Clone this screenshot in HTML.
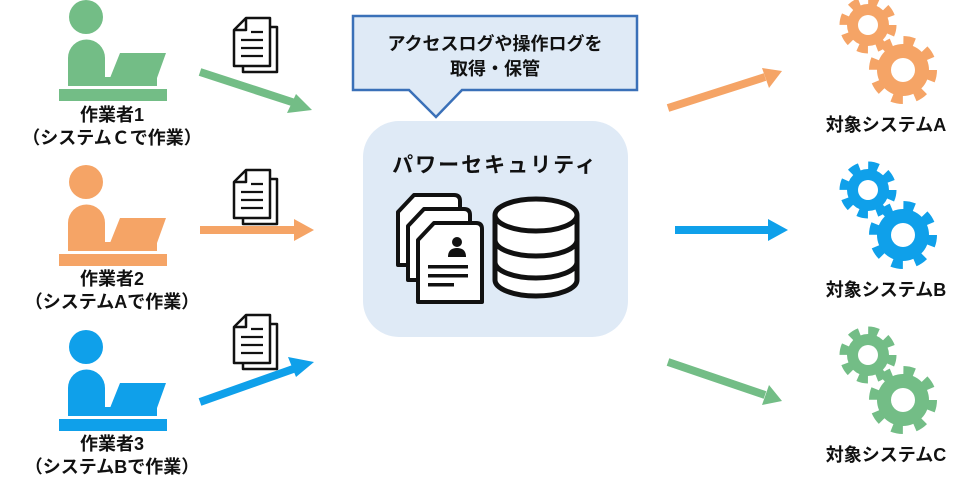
<!DOCTYPE html>
<html><head><meta charset="utf-8"><style>
body{margin:0;background:#fff;width:965px;height:494px;overflow:hidden}
text{font-family:"Liberation Sans","Noto Sans CJK JP",sans-serif;font-weight:bold;fill:#111}
</style></head><body>
<svg width="965" height="494" viewBox="0 0 965 494" xmlns="http://www.w3.org/2000/svg">
<defs>
<g id="person">
<circle cx="86" cy="17" r="17"/>
<path d="M68 86 V58 A18.5 18.5 0 0 1 105 58 V86 Z"/>
<path d="M120 53 H166 L157 78 H110 Z"/>
<rect x="94" y="77" width="63" height="9"/>
<rect x="59" y="89" width="108" height="12"/>
</g>
<g id="doc" fill="#fff" stroke="#111" stroke-width="2.5" stroke-linejoin="round">
<path d="M243 27 H277 V72 H243 Z"/>
<path d="M234 30 L246 18 H270 V66 H234 Z"/>
<path d="M234 30 H246 V18" fill="none"/>
<path d="M251 32 H263 M241 40 H263 M241 48 H263 M241 56 H263" stroke-width="2.2"/>
</g>
</defs>

<g fill="#73bd86"><use href="#person"/></g>
<g fill="#f5a466" transform="translate(0,165)"><use href="#person"/></g>
<g fill="#0fa0ea" transform="translate(0,330)"><use href="#person"/></g>

<g font-size="18" text-anchor="middle">
<text x="112" y="121">作業者1</text>
<text x="112" y="144">（システムＣで作業）</text>
<text x="112" y="285">作業者2</text>
<text x="112" y="308">（システムAで作業）</text>
<text x="112" y="450">作業者3</text>
<text x="112" y="473">（システムBで作業）</text>
</g>

<use href="#doc"/>
<use href="#doc" transform="translate(0,152)"/>
<use href="#doc" transform="translate(0,297)"/>

<g stroke-width="8" fill="none">
<line x1="200" y1="72" x2="295" y2="103" stroke="#73bd86"/>
<line x1="200" y1="230" x2="296" y2="230" stroke="#f5a466"/>
<line x1="200" y1="402" x2="296" y2="368" stroke="#0fa0ea"/>
<line x1="668" y1="108" x2="765" y2="77" stroke="#f5a466"/>
<line x1="675" y1="230" x2="770" y2="230" stroke="#0fa0ea"/>
<line x1="668" y1="362" x2="765" y2="395" stroke="#73bd86"/>
</g>
<polygon points="312,110 287,113 296,94" fill="#73bd86"/>
<polygon points="314,230 294,219 294,241" fill="#f5a466"/>
<polygon points="314,362 296,377 288,357" fill="#0fa0ea"/>
<polygon points="782,71 769,88 762,68" fill="#f5a466"/>
<polygon points="788,230 768,219 768,241" fill="#0fa0ea"/>
<polygon points="782,401 762,405 769,385" fill="#73bd86"/>

<path d="M353 16 H637 V90 H462 L436 117 L409 90 H353 Z" fill="#dfeaf6" stroke="#3a70b8" stroke-width="2.5"/>
<text x="495" y="50" font-size="18" text-anchor="middle">アクセスログや操作ログを</text>
<text x="495" y="75" font-size="18" text-anchor="middle">取得・保管</text>

<rect x="363" y="121" width="265" height="216" rx="36" fill="#dfeaf6"/>
<text x="495" y="172" font-size="21" text-anchor="middle" letter-spacing="2">パワーセキュリティ</text>

<g fill="#fff" stroke="#111" stroke-width="4" stroke-linejoin="round">
<path d="M398 212 L414 195 H454 Q460 195 460 201 V265 H398 Z"/>
<path d="M408 226 L424 209 H464 Q470 209 470 215 V280 H408 Z"/>
<path d="M418 240 L434 223 H476 Q482 223 482 229 V302 H418 Z"/>
</g>
<g fill="#111">
<circle cx="457" cy="242" r="5"/>
<path d="M448 257 Q448 248 457 248 Q466 248 466 257 Z"/>
<rect x="428" y="265" width="40" height="3.5"/>
<rect x="428" y="274" width="40" height="3.5"/>
<rect x="428" y="283" width="26" height="3.5"/>
</g>
<g fill="#fff" stroke="#111" stroke-width="5">
<path d="M495 215 V280 A41 16 0 0 0 577 280 V215"/>
<ellipse cx="536" cy="215" rx="41" ry="16"/>
<path d="M495 240 A41 16 0 0 0 577 240 M495 262 A41 16 0 0 0 577 262" fill="none"/>
</g>

<g fill="#f5a466">
<circle cx="868" cy="25" r="21"/>
<circle cx="868" cy="25" r="24" fill="none" stroke="#f5a466" stroke-width="9" stroke-dasharray="10 8.85"/>
<circle cx="868" cy="25" r="10" fill="#fff"/>
<circle cx="903" cy="70" r="26"/>
<circle cx="903" cy="70" r="29.5" fill="none" stroke="#f5a466" stroke-width="9" stroke-dasharray="11 12.2"/>
<circle cx="903" cy="70" r="12" fill="#fff"/>
</g>
<g transform="translate(0,165)">
<circle cx="868" cy="25" r="21" fill="#0fa0ea"/>
<circle cx="868" cy="25" r="24" fill="none" stroke="#0fa0ea" stroke-width="9" stroke-dasharray="10 8.85"/>
<circle cx="868" cy="25" r="10" fill="#fff"/>
<circle cx="903" cy="70" r="26" fill="#0fa0ea"/>
<circle cx="903" cy="70" r="29.5" fill="none" stroke="#0fa0ea" stroke-width="9" stroke-dasharray="11 12.2"/>
<circle cx="903" cy="70" r="12" fill="#fff"/>
</g>
<g transform="translate(0,330)">
<circle cx="868" cy="25" r="21" fill="#73bd86"/>
<circle cx="868" cy="25" r="24" fill="none" stroke="#73bd86" stroke-width="9" stroke-dasharray="10 8.85"/>
<circle cx="868" cy="25" r="10" fill="#fff"/>
<circle cx="903" cy="70" r="26" fill="#73bd86"/>
<circle cx="903" cy="70" r="29.5" fill="none" stroke="#73bd86" stroke-width="9" stroke-dasharray="11 12.2"/>
<circle cx="903" cy="70" r="12" fill="#fff"/>
</g>

<g font-size="18" text-anchor="middle">
<text x="886" y="131">対象システムA</text>
<text x="886" y="296">対象システムB</text>
<text x="886" y="461">対象システムC</text>
</g>
</svg>
</body></html>
